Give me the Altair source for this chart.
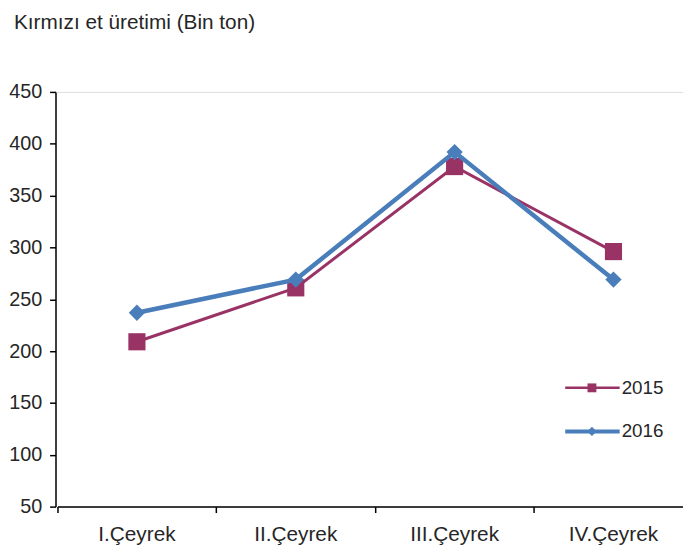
import altair as alt
import pandas as pd

title_text = "Kırmızı et üretimi (Bin ton)"
quarters = ["I.Çeyrek", "II.Çeyrek", "III.Çeyrek", "IV.Çeyrek"]
series_names = ["2015", "2016"]
values_2015 = [209, 261, 378, 296]
values_2016 = [237, 269, 392, 269]
y_ticks = [50, 100, 150, 200, 250, 300, 350, 400, 450]

rows = []
for q, a, b in zip(quarters, values_2015, values_2016):
    rows.append({"quarter": q, "series": "2015", "value": a})
    rows.append({"quarter": q, "series": "2016", "value": b})
df = pd.DataFrame(rows)

FONT = "Liberation Sans"
TXT = "#262626"
colors = {"2015": "#993366", "2016": "#4A7EBB"}
line_w = {"2015": 3, "2016": 4.5}
shapes = {"2015": "square", "2016": "diamond"}
msize = {"2015": 300, "2016": 270}
leg_msize = {"2015": 80, "2016": 90}
leg_w = {"2015": 2.5, "2016": 4}

x = alt.X(
    "quarter:N", sort=quarters,
    scale=alt.Scale(type="band", paddingInner=0, paddingOuter=0, range=[2, 644]),
    axis=alt.Axis(title=None, bandPosition=0, labelFont=FONT, labelFontSize=21,
                  labelColor=TXT, labelPadding=11, tickSize=6, tickColor="black",
                  tickWidth=1.5, domainColor="black", domainWidth=1.5, labelAngle=0,
                  grid=False),
)
y = alt.Y(
    "value:Q",
    scale=alt.Scale(domain=[50, 450], nice=False, zero=False),
    axis=alt.Axis(title=None, values=y_ticks, labelFont=FONT, labelFontSize=20,
                  labelColor=TXT, labelPadding=8, tickSize=6, tickColor="black",
                  tickWidth=1.5, domainColor="black", domainWidth=1.5, grid=False),
)

layers = []
for name in series_names:
    base = alt.Chart(df).transform_filter(alt.datum.series == name)
    layers.append(base.mark_line(color=colors[name], strokeWidth=line_w[name]).encode(x=x, y=y))
    layers.append(base.mark_point(shape=shapes[name], filled=True, size=msize[name],
                                  color=colors[name], opacity=1).encode(x=x, y=y))

leg_data = alt.Data(values=[{"series": s} for s in series_names])
for i, name in enumerate(series_names):
    yy = 299 + 44 * i
    lb = alt.Chart(leg_data).transform_filter(alt.datum.series == name)
    layers.append(lb.mark_rule(color=colors[name], strokeWidth=leg_w[name]).encode(
        x=alt.value(515), x2=alt.value(570), y=alt.value(yy)))
    layers.append(lb.mark_point(shape=shapes[name], filled=True, size=leg_msize[name],
                                color=colors[name], opacity=1).encode(
        x=alt.value(542), y=alt.value(yy)))
    layers.append(lb.mark_text(align="left", baseline="middle", font=FONT, fontSize=19,
                               color=TXT).encode(
        x=alt.value(572), y=alt.value(yy), text="series:N"))

title_data = alt.Data(values=[{"t": title_text}])
layers.append(alt.Chart(title_data).mark_text(align="left", baseline="alphabetic", font=FONT,
                                              fontSize=21, color=TXT).encode(
    x=alt.value(-42), y=alt.value(-64), text="t:N"))

chart = alt.layer(*layers).properties(
    width=634, height=419,
    autosize=alt.AutoSizeParams(type="none"),
    padding={"left": 48, "top": 82, "right": 0, "bottom": 37},
).configure_view(stroke=None).configure(background="white")

chart.save("out.html", embed_options={"renderer": "svg", "actions": False})
